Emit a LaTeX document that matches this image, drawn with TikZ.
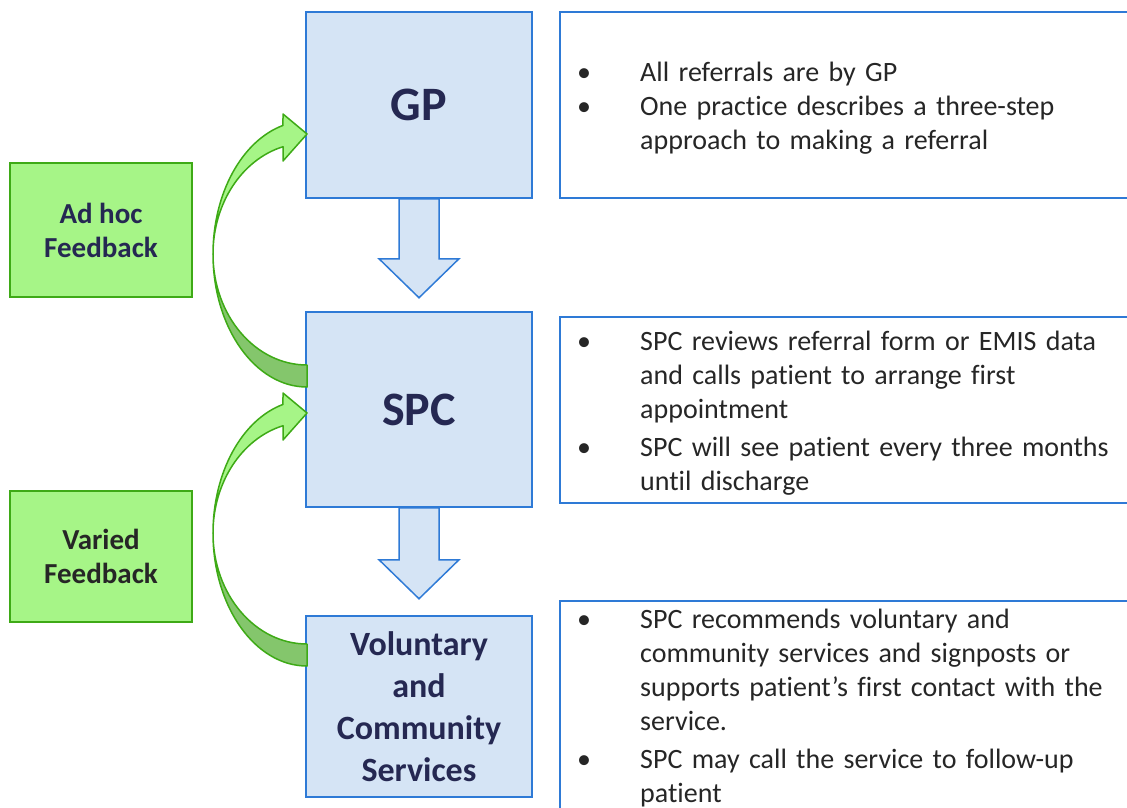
\documentclass[tikz,border=0pt]{standalone}
\usepackage{fontspec}
\setmainfont{Carlito}[Ligatures=NoCommon]
\definecolor{boxfill}{RGB}{213,228,245}
\definecolor{boxline}{RGB}{46,122,214}
\definecolor{greenfill}{RGB}{166,245,135}
\definecolor{greendark}{RGB}{132,198,108}
\definecolor{greenline}{RGB}{62,170,22}
\definecolor{navy}{RGB}{37,40,82}
\definecolor{textgray}{RGB}{38,38,38}
\newcommand{\notebullet}{\makebox[63pt][l]{•}}
\newcommand{\noteindent}{\hspace*{63pt}}
\begin{document}
\begin{tikzpicture}[x=1pt, y=-1pt,
    stage/.style={rectangle, draw=boxline, fill=boxfill, line width=1.5pt, text=navy, align=center, font=\bfseries\fontsize{48}{58}\selectfont},
    feedback/.style={rectangle, draw=greenline, fill=greenfill, line width=1.5pt, text=navy, align=center, font=\bfseries\fontsize{29}{34}\selectfont},
    note/.style={draw=boxline, fill=white, line width=1.2pt},
    notetext/.style={anchor=base west, inner sep=0pt, text width=545pt, align=left, text=textgray, font=\fontsize{28}{34}\selectfont},
    flow/.style={draw=boxline, fill=boxfill, line width=1.5pt, line join=miter},
    loop/.style={draw=greenline, line width=1.5pt, line join=round}]
      \clip (0,0) rectangle (1127,807);

      \node[stage, minimum width=226pt, minimum height=186pt] (gp) at (419,105) {GP};
      \node[stage, minimum width=226pt, minimum height=195pt] (spc) at (419,409.5) {SPC};
      \node[stage, minimum width=226pt, minimum height=181pt, font=\bfseries\fontsize{34}{42}\selectfont] (vcs) at (419,706.5) {Voluntary\\and\\Community\\Services};

      \node[feedback, minimum width=182pt, minimum height=134pt] (adhoc) at (101,230) {Ad hoc\\Feedback};
      \node[feedback, minimum width=182pt, minimum height=131pt, text=textgray] (varied) at (101,556.5) {Varied\\Feedback};

      % down arrows between the stages
      \draw[flow] ([xshift=-20pt]gp.south) -- ++(40,0) -- ++(0,60) -- ++(20,0) -- ++(-40,39) -- ++(-40,-39) -- ++(20,0) -- cycle;
      \draw[flow] ([xshift=-20pt]spc.south) -- ++(40,0) -- ++(0,52) -- ++(20,0) -- ++(-40,39) -- ++(-40,-39) -- ++(20,0) -- cycle;

      % feedback loops
      \filldraw[loop, fill=greendark] (213,254) arc[start angle=180, end angle=90, x radius=94, y radius=133] -- (307,365) arc[start angle=90, end angle=180, x radius=94, y radius=111] -- cycle;
      \filldraw[loop, fill=greenfill] (213,254) arc[start angle=180, end angle=255.2, x radius=94, y radius=133] -- (283,114) -- (307,134) -- (283,161) -- (283,146.7) arc[start angle=255.2, end angle=180, x radius=94, y radius=111] -- cycle;
      \filldraw[loop, fill=greendark] (213,533) arc[start angle=180, end angle=90, x radius=94, y radius=133] -- (307,644) arc[start angle=90, end angle=180, x radius=94, y radius=111] -- cycle;
      \filldraw[loop, fill=greenfill] (213,533) arc[start angle=180, end angle=255.2, x radius=94, y radius=133] -- (283,393) -- (307,413) -- (283,440) -- (283,425.7) arc[start angle=255.2, end angle=180, x radius=94, y radius=111] -- cycle;

      % notes on the right
      \draw[note] (560,12) rectangle (1140,198);
      \draw[note] (560,317) rectangle (1140,503);
      \draw[note] (560,601) rectangle (1140,830);
      \node[notetext] (n1) at (577,81) {\notebullet All referrals are by GP\\
        \notebullet One practice describes a three-step\\
        \noteindent approach to making a referral};
      \node[notetext] (n2) at (577,350) {\notebullet SPC reviews referral form or EMIS data\\
        \noteindent and calls patient to arrange first\\
        \noteindent appointment\\[4pt]
        \notebullet SPC will see patient every three months\\
        \noteindent until discharge};
      \node[notetext] (n3) at (577,628) {\notebullet SPC recommends voluntary and\\
        \noteindent community services and signposts or\\
        \noteindent supports patient’s first contact with the\\
        \noteindent service.\\[4pt]
        \notebullet SPC may call the service to follow-up\\
        \noteindent patient};
    \end{tikzpicture}
\end{document}
